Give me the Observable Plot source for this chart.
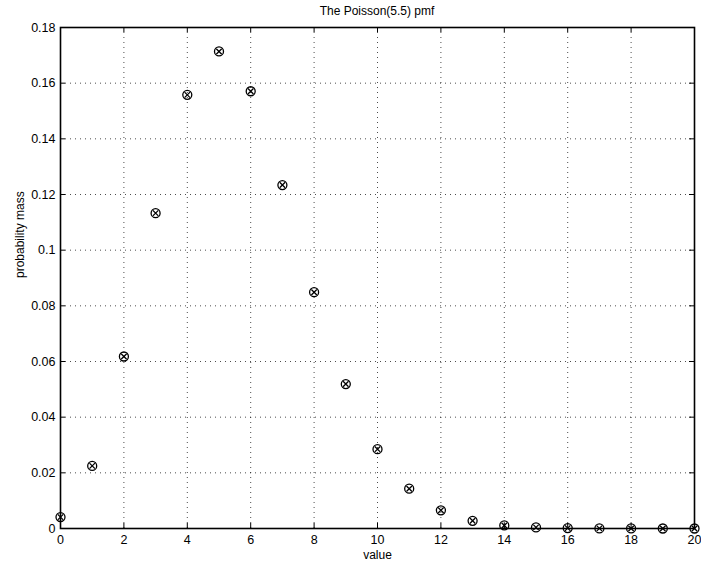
<!DOCTYPE html>
<html><head><meta charset="utf-8">
<script src="https://cdn.jsdelivr.net/npm/d3@7"></script>
<script src="https://cdn.jsdelivr.net/npm/@observablehq/plot@0.6"></script>
<style>
body{margin:0;background:#fff;}
#chart{position:relative;width:701px;height:565px;}
#title{position:absolute;top:4px;left:60px;width:634px;text-align:center;font:12px "Liberation Sans",Arial,sans-serif;color:#000;}
</style>
</head><body>
<div id="chart"><div id="title">The Poisson(5.5) pmf</div></div>
<script>
const values = [0,1,2,3,4,5,6,7,8,9,10,11,12,13,14,15,16,17,18,19,20];
const pmf = [0.00409,0.0225,0.0618,0.1133,0.1558,0.1714,0.1571,0.1234,0.0849,0.0519,0.0285,0.0143,0.00654,0.00277,0.00109,0.0004,0.00014,0.00004,0.00001,0.000004,0.000001];
const xTicks = [0,2,4,6,8,10,12,14,16,18,20];
const yTicks = [0,0.02,0.04,0.06,0.08,0.1,0.12,0.14,0.16,0.18];
const yLabels = ["0","0.02","0.04","0.06","0.08","0.1","0.12","0.14","0.16","0.18"];
const data = values.map((v,i)=>({value:v, mass:pmf[i]}));

const W=701,H=565,mt=27,mb=37,ml=60,mr=7;
const ph=H-mt-mb, pw=W-ml-mr, ts=5;
const font='"Liberation Sans",Arial,sans-serif';

const chart = Plot.plot({
  width:W,height:H,marginTop:mt,marginBottom:mb,marginLeft:ml,marginRight:mr,
  style:{fontFamily:font,fontSize:"12px",color:"#000",background:"#fff"},
  x:{domain:[0,20],ticks:xTicks,label:null},
  y:{domain:[0,0.18],ticks:yTicks,label:null},
  marks:[
    Plot.gridX(xTicks,{stroke:"#000",strokeOpacity:0.7,strokeDasharray:"1,4"}),
    Plot.gridY(yTicks,{stroke:"#000",strokeOpacity:0.7,strokeDasharray:"1,4"}),
    Plot.ruleX(xTicks,{x:d=>d,insetTop:ph-ts,stroke:"#000"}),
    Plot.ruleX(xTicks,{x:d=>d,insetBottom:ph-ts,stroke:"#000"}),
    Plot.ruleY(yTicks,{y:d=>d,insetRight:pw-ts,stroke:"#000"}),
    Plot.ruleY(yTicks,{y:d=>d,insetLeft:pw-ts,stroke:"#000"}),
    Plot.axisX(xTicks,{tickSize:0,tickPadding:7,fontSize:12.5,label:null}),
    Plot.axisY(yTicks,{tickSize:0,tickPadding:5,fontSize:12.5,label:null,tickFormat:(d)=>yLabels[yTicks.indexOf(d)]}),
    Plot.frame({stroke:"#000",strokeWidth:1.6}),
    Plot.dot(data,{x:"value",y:"mass",r:4.5,stroke:"#000",strokeWidth:1.3,fill:"none"}),
    Plot.dot(data,{x:"value",y:"mass",symbol:"times",r:2.6,stroke:"#000",strokeWidth:1.3}),
    Plot.text(["value"],{frameAnchor:"bottom",dy:30,text:d=>d,fontSize:12,fill:"#000"}),
    Plot.text(["probability mass"],{frameAnchor:"left",dx:-40,rotate:-90,text:d=>d,fontSize:12,fill:"#000"})
  ]
});
document.getElementById("chart").appendChild(chart);
</script>
</body></html>
